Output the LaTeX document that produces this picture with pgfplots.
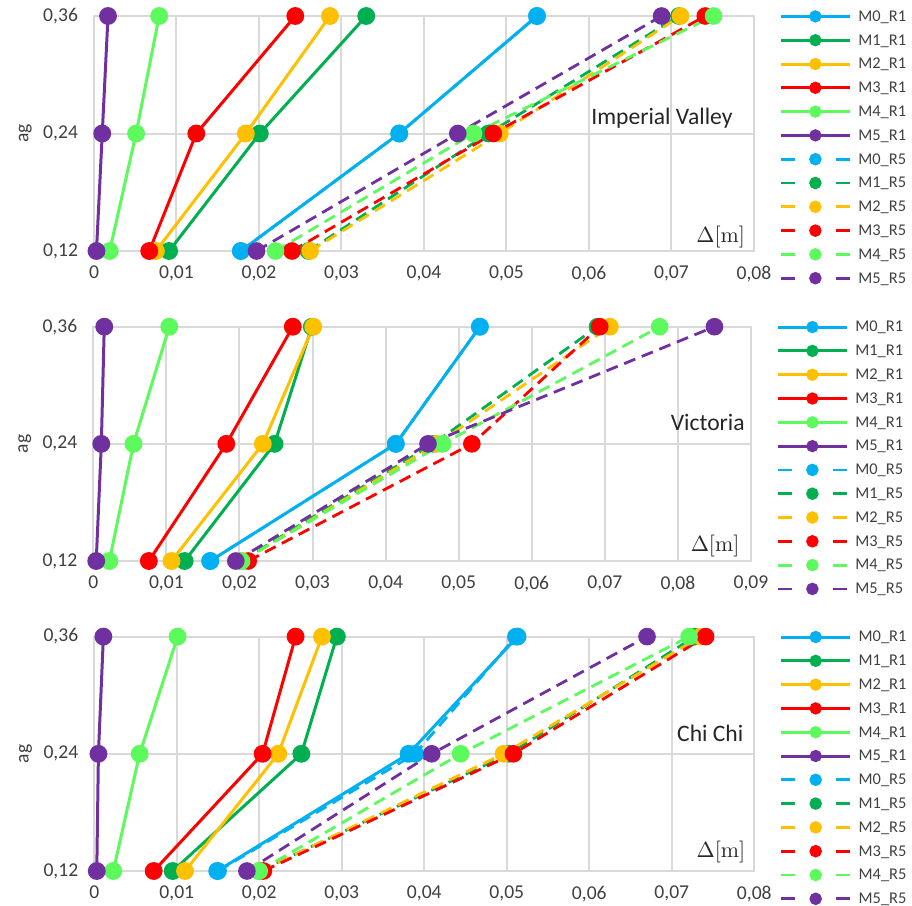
\documentclass[border=0pt]{standalone}
\usepackage{pgfplots}
\pgfplotsset{compat=1.18}
\usepackage[no-math]{fontspec}
\setmainfont{Carlito}
\definecolor{cb}{HTML}{00B0F0}
\definecolor{cg}{HTML}{00B050}
\definecolor{co}{HTML}{FFC000}
\definecolor{cr}{HTML}{FF0000}
\definecolor{cl}{HTML}{5CFA5C}
\definecolor{cp}{HTML}{7030A0}
\definecolor{gridc}{HTML}{D9D9D9}
\pgfplotsset{
 r1/.style={color=#1, line width=1.5pt, mark=*, mark size=3.7pt, mark options={solid},
   legend image code/.code={\draw[##1, mark=none] (0pt,0pt)--(34.5pt,0pt); \fill[##1, solid] (17.25pt,0pt) circle (2.3pt);}},
 r5/.style={color=#1, line width=1.4pt, dash pattern=on 6pt off 3.5pt, mark=*, mark size=3.7pt, mark options={solid},
   legend image code/.code={\draw[##1, solid, mark=none] (0pt,0pt)--(7pt,0pt); \draw[##1, solid, mark=none] (27.5pt,0pt)--(34.5pt,0pt); \fill[##1, solid] (17.25pt,0pt) circle (2.4pt);}},
 panel/.style={
   scale only axis, width=330pt, height=117.5pt,
   xmin=0, xmax=0.08, ymin=0.12, ymax=0.36,
   ytick={0.12,0.24,0.36},
   xtick={0,0.01,0.02,0.03,0.04,0.05,0.06,0.07,0.08},
   scaled x ticks=false, scaled y ticks=false,
   grid=major, grid style={gridc, line width=1pt},
   axis line style={gridc, line width=1pt},
   major tick length=0pt, clip=false,
   /pgf/number format/assume math mode=true,
   tick label style={font=\fontsize{9.8}{11}\selectfont, text=black!75},
   yticklabel style={/pgf/number format/fixed, /pgf/number format/fixed zerofill, /pgf/number format/precision=2, /pgf/number format/use comma},
   xticklabel style={/pgf/number format/fixed, /pgf/number format/precision=2, /pgf/number format/use comma},
   yticklabel shift=4.5pt, xticklabel shift=4pt,
   ylabel={ag},
   every axis y label/.style={at={(axis description cs:-0.104,0.5)}, rotate=90, anchor=center, font=\fontsize{9.8}{11}\selectfont, text=black!75},
   legend style={draw=none, fill=none, at={(axis description cs:1,1)}, anchor=north west,
     xshift=12.5pt, yshift=5.95pt, inner sep=0pt, font=\fontsize{8.2}{9}\selectfont, text=black!75,
     row sep=0pt, nodes={inner sep=0pt, minimum height=11.9pt, text height=5.8pt, text depth=1pt},
     /tikz/every odd column/.append style={column sep=3.5pt}},
   legend cell align=left,
 }
}
\begin{document}
\begin{tikzpicture}
\useasboundingbox (0,0) rectangle (456pt,-453pt);
% Panel 1: Imperial Valley
\begin{axis}[panel, at={(47pt,-125.5pt)}, anchor=south west]
\addplot[r1=cb] coordinates {(0.0178,0.12)(0.0370,0.24)(0.0537,0.36)};
\addplot[r1=cg] coordinates {(0.0091,0.12)(0.0201,0.24)(0.0330,0.36)};
\addplot[r1=co] coordinates {(0.0075,0.12)(0.0184,0.24)(0.0286,0.36)};
\addplot[r1=cr] coordinates {(0.0067,0.12)(0.0124,0.24)(0.0244,0.36)};
\addplot[r1=cl] coordinates {(0.0019,0.12)(0.0051,0.24)(0.0079,0.36)};
\addplot[r1=cp] coordinates {(0.0003,0.12)(0.0010,0.24)(0.0017,0.36)};
\addplot[r5=cb] coordinates {(0.0178,0.12)(0.0370,0.24)(0.0537,0.36)};
\addplot[r5=cg] coordinates {(0.0260,0.12)(0.0478,0.24)(0.0709,0.36)};
\addplot[r5=co] coordinates {(0.0262,0.12)(0.0492,0.24)(0.0711,0.36)};
\addplot[r5=cr] coordinates {(0.0240,0.12)(0.0484,0.24)(0.0741,0.36)};
\addplot[r5=cl] coordinates {(0.0220,0.12)(0.0460,0.24)(0.0751,0.36)};
\addplot[r5=cp] coordinates {(0.0197,0.12)(0.0441,0.24)(0.0688,0.36)};
\legend{M0\_R1,M1\_R1,M2\_R1,M3\_R1,M4\_R1,M5\_R1,M0\_R5,M1\_R5,M2\_R5,M3\_R5,M4\_R5,M5\_R5}
\node[anchor=east, inner sep=0pt, font=\fontsize{11.8}{13}\selectfont, text=black!85] at (rel axis cs:0.968,0.566) {Imperial Valley};
\node[anchor=east, inner sep=0pt, font=\fontsize{10.5}{12}\selectfont, text=black!85] at (rel axis cs:0.987,0.061) {$\Delta[\mathrm{m}]$};
\end{axis}
% Panel 2: Victoria
\begin{axis}[panel, at={(46.65pt,-280.5pt)}, anchor=south west, width=328.85pt, height=117.15pt, xmax=0.09,
  xtick={0,0.01,0.02,0.03,0.04,0.05,0.06,0.07,0.08,0.09}]
\addplot[r1=cb] coordinates {(0.0160,0.12)(0.0414,0.24)(0.0529,0.36)};
\addplot[r1=cg] coordinates {(0.0125,0.12)(0.0248,0.24)(0.0299,0.36)};
\addplot[r1=co] coordinates {(0.0107,0.12)(0.0232,0.24)(0.0301,0.36)};
\addplot[r1=cr] coordinates {(0.0076,0.12)(0.0182,0.24)(0.0273,0.36)};
\addplot[r1=cl] coordinates {(0.0022,0.12)(0.0055,0.24)(0.0104,0.36)};
\addplot[r1=cp] coordinates {(0.0004,0.12)(0.0011,0.24)(0.0015,0.36)};
\addplot[r5=cb] coordinates {(0.0160,0.12)(0.0414,0.24)(0.0529,0.36)};
\addplot[r5=cg] coordinates {(0.0202,0.12)(0.0465,0.24)(0.0690,0.36)};
\addplot[r5=co] coordinates {(0.0204,0.12)(0.0470,0.24)(0.0707,0.36)};
\addplot[r5=cr] coordinates {(0.0212,0.12)(0.0518,0.24)(0.0693,0.36)};
\addplot[r5=cl] coordinates {(0.0203,0.12)(0.0478,0.24)(0.0775,0.36)};
\addplot[r5=cp] coordinates {(0.0195,0.12)(0.0458,0.24)(0.0850,0.36)};
\legend{M0\_R1,M1\_R1,M2\_R1,M3\_R1,M4\_R1,M5\_R1,M0\_R5,M1\_R5,M2\_R5,M3\_R5,M4\_R5,M5\_R5}
\node[anchor=east, inner sep=0pt, font=\fontsize{11.8}{13}\selectfont, text=black!85] at (rel axis cs:0.991,0.590) {Victoria};
\node[anchor=east, inner sep=0pt, font=\fontsize{10.5}{12}\selectfont, text=black!85] at (rel axis cs:0.983,0.065) {$\Delta[\mathrm{m}]$};
\end{axis}
% Panel 3: Chi Chi
\begin{axis}[panel, at={(47.15pt,-435.5pt)}, anchor=south west, height=117.2pt]
\addplot[r1=cb] coordinates {(0.0149,0.12)(0.0381,0.24)(0.0513,0.36)};
\addplot[r1=cg] coordinates {(0.0095,0.12)(0.0251,0.24)(0.0294,0.36)};
\addplot[r1=co] coordinates {(0.0110,0.12)(0.0223,0.24)(0.0276,0.36)};
\addplot[r1=cr] coordinates {(0.0072,0.12)(0.0204,0.24)(0.0244,0.36)};
\addplot[r1=cl] coordinates {(0.0023,0.12)(0.0055,0.24)(0.0101,0.36)};
\addplot[r1=cp] coordinates {(0.0003,0.12)(0.0005,0.24)(0.0011,0.36)};
\addplot[r5=cb] coordinates {(0.0150,0.12)(0.0389,0.24)(0.0511,0.36)};
\addplot[r5=cg] coordinates {(0.0200,0.12)(0.0503,0.24)(0.0728,0.36)};
\addplot[r5=co] coordinates {(0.0202,0.12)(0.0496,0.24)(0.0735,0.36)};
\addplot[r5=cr] coordinates {(0.0205,0.12)(0.0508,0.24)(0.0741,0.36)};
\addplot[r5=cl] coordinates {(0.0200,0.12)(0.0444,0.24)(0.0721,0.36)};
\addplot[r5=cp] coordinates {(0.0185,0.12)(0.0409,0.24)(0.0670,0.36)};
\legend{M0\_R1,M1\_R1,M2\_R1,M3\_R1,M4\_R1,M5\_R1,M0\_R5,M1\_R5,M2\_R5,M3\_R5,M4\_R5,M5\_R5}
\node[anchor=east, inner sep=0pt, font=\fontsize{11.8}{13}\selectfont, text=black!85] at (rel axis cs:0.984,0.585) {Chi Chi};
\node[anchor=east, inner sep=0pt, font=\fontsize{10.5}{12}\selectfont, text=black!85] at (rel axis cs:0.987,0.082) {$\Delta[\mathrm{m}]$};
\end{axis}
\end{tikzpicture}
\end{document}
